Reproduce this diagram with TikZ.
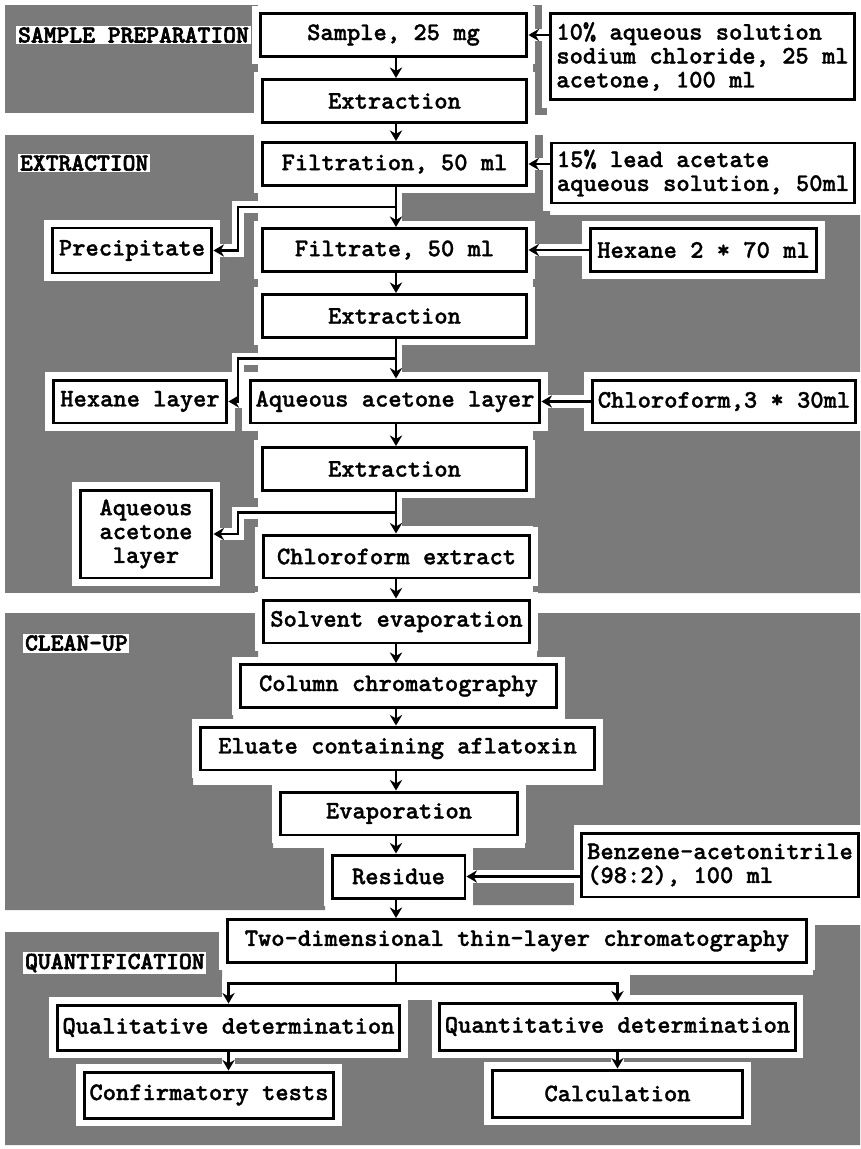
\documentclass[tikz,border=0pt]{standalone}
\usepackage{fontspec}
\usetikzlibrary{arrows.meta,calc}
\newfontfamily\flowfont{lmmonolt10-bold.otf}[FakeBold=1.2]
\newfontfamily\phasefont{lmmonolt10-bold.otf}[FakeBold=2.5]
\tikzset{
  screen/.style={fill=black!52},
  stage/.style={draw, line width=1.7pt, fill=white, inner sep=3pt, minimum height=0.86cm,
    font=\flowfont\fontsize{14.4}{13.6}\selectfont,
    preaction={draw=white, line width=9pt}},
  phase/.style={fill=white, inner sep=1pt, anchor=west,
    font=\phasefont\fontsize{13.9}{13.6}\selectfont},
  flow/.style={line width=1.5pt, -{Stealth[length=6pt,width=7pt]},
    preaction={draw=white, line width=7pt, -, shorten >=1pt, shorten <=1pt}},
}

\begin{document}
\begin{tikzpicture}[x=0.02cm, y=-0.02cm]
  \useasboundingbox (0,0) rectangle (860,1149);
  % screened backgrounds of the four phases
  \fill[screen] (5,5) rectangle (258,113);
  \fill[screen] (533,5) rectangle (547,115);
  \fill[screen] (5,135) rectangle (258,593);
  \fill[screen] (533,135) -- (550,135) -- (550,215) -- (860,215) -- (860,593) -- (533,593) -- cycle;
  \fill[screen] (400,192) rectangle (533,224);
  \fill[screen] (400,345) rectangle (533,372);
  \fill[screen] (400,498) rectangle (533,526);
  \fill[screen] (5,613) -- (258,613) -- (258,660) -- (233,660) -- (233,720) -- (193,720) -- (193,785)
    -- (273,785) -- (273,848) -- (325,848) -- (325,910) -- (5,910) -- cycle;
  \fill[screen] (537,613) -- (860,613) -- (860,826) -- (576,826) -- (576,905) -- (473,905) -- (473,848)
    -- (525,848) -- (525,785) -- (603,785) -- (603,720) -- (565,720) -- (565,660) -- (537,660) -- cycle;
  \fill[screen] (5,932) -- (222,932) -- (222,1000) -- (630,1000) -- (630,975) -- (813,975) -- (813,925)
    -- (860,925) -- (860,1145) -- (5,1145) -- cycle;

  % phase labels
  \node[phase] (lblprep)  at (16,35)  {SAMPLE PREPARATION};
  \node[phase] (lblextr)  at (18,163) {EXTRACTION};
  \node[phase] (lblclean) at (23,643) {CLEAN-UP};
  \node[phase] (lblquant) at (23,963) {QUANTIFICATION};

  % main column
  \node[stage, minimum width=5.34cm] (sample)   at (393.5,35)    {Sample, 25 mg};
  \node[stage, minimum width=5.3cm]  (ext1)     at (394.5,101)   {Extraction};
  \node[stage, minimum width=5.3cm]  (filt)     at (394.5,164)   {Filtration, 50 ml};
  \node[stage, minimum width=5.3cm]  (filtrate) at (394.5,250)   {Filtrate, 50 ml};
  \node[stage, minimum width=5.3cm]  (ext2)     at (394.5,316)   {Extraction};
  \node[stage, minimum width=5.8cm]  (aqlayer)  at (395,401.5)   {Aqueous acetone layer};
  \node[stage, minimum width=5.3cm]  (ext3)     at (394.5,469)   {Extraction};
  \node[stage, minimum width=5.34cm] (chlext)   at (396.5,556.5) {Chloroform extract};
  \node[stage, minimum width=5.34cm] (solvev)   at (396.5,621.5) {Solvent evaporation};
  \node[stage, minimum width=6.34cm] (column)   at (398.5,686)   {Column chromatography};
  \node[stage, minimum width=7.9cm]  (eluate)   at (397.5,748.5) {Eluate containing aflatoxin};
  \node[stage, minimum width=4.76cm] (evap)     at (399,813.5)   {Evaporation};
  \node[stage, minimum width=2.66cm] (residue)  at (398.5,876.5) {Residue};
  \node[stage, minimum width=11.6cm] (tlc)      at (517,941)     {Two-dimensional thin-layer chromatography};
  \node[stage, minimum width=6.86cm, minimum height=0.9cm] (quali)   at (228.5,1027.5) {Qualitative determination};
  \node[stage, minimum width=4.96cm, minimum height=0.92cm] (confirm) at (209,1095)    {Confirmatory tests};
  \node[stage, minimum width=7.1cm, minimum height=0.94cm]  (quanti)  at (617.5,1026.5) {Quantitative determination};
  \node[stage, minimum width=5.02cm, minimum height=0.94cm] (calc)    at (617.5,1093.5) {Calculation};

  % reagents and side products
  \node[stage, align=left, minimum width=6.1cm, minimum height=1.74cm] (salt) at (702.5,56.5)
    {10\% aqueous solution\\sodium chloride, 25 ml\\acetone, 100 ml};
  \node[stage, align=left, minimum width=6.08cm, minimum height=1.2cm] (lead) at (703,173)
    {15\% lead acetate\\aqueous solution, 50ml};
  \node[stage, minimum width=3.2cm, minimum height=0.9cm] (precip)   at (132,250.5)  {Precipitate};
  \node[stage, minimum width=4.54cm] (hexane)   at (703.5,250)  {Hexane 2 * 70 ml};
  \node[stage, minimum width=3.48cm] (hexlayer) at (140,401.5)  {Hexane layer};
  \node[stage, minimum width=5.28cm] (chloro)   at (724,401.5)  {Chloroform,3 * 30ml};
  \node[stage, align=center, minimum width=2.64cm, minimum height=1.76cm] (aqrest) at (146,534)
    {Aqueous\\acetone\\layer};
  \node[stage, align=left, minimum width=5.52cm, minimum height=1.28cm] (benzene) at (720,865)
    {Benzene-acetonitrile\\(98:2), 100 ml};

  % connectors
  \coordinate (spine) at (396,0);
  \coordinate (rail) at (238,0);
  \draw[flow] (salt.west |- sample.east) -- (sample.east);
  \draw[flow] (sample.south -| spine) -- (ext1.north -| spine);
  \draw[flow] (ext1.south -| spine) -- (filt.north -| spine);
  \draw[flow] (lead.west |- filt.east) -- (filt.east);
  \draw[flow] (filt.south -| spine) -- (filtrate.north -| spine);
  \coordinate (fork1) at ($(filt.south -| spine)!0.5!(filtrate.north -| spine)$);
  \draw[flow] (fork1) -| (rail |- precip.east) -- (precip.east);
  \draw[flow] (hexane.west) -- (filtrate.east);
  \draw[flow] (filtrate.south -| spine) -- (ext2.north -| spine);
  \draw[flow] (ext2.south -| spine) -- (aqlayer.north -| spine);
  \coordinate (fork2) at ($(ext2.south -| spine)!0.5!(aqlayer.north -| spine)$);
  \draw[flow] (fork2) -| (rail |- hexlayer.east) -- (hexlayer.east);
  \draw[flow] (chloro.west) -- (aqlayer.east);
  \draw[flow] (aqlayer.south -| spine) -- (ext3.north -| spine);
  \draw[flow] (ext3.south -| spine) -- (chlext.north -| spine);
  \coordinate (fork3) at ($(ext3.south -| spine)!0.5!(chlext.north -| spine)$);
  \draw[flow] (fork3) -| (rail |- aqrest.east) -- (aqrest.east);
  \draw[flow] (chlext.south -| spine) -- (solvev.north -| spine);
  \draw[flow] (solvev.south -| spine) -- (column.north -| spine);
  \draw[flow] (column.south -| spine) -- (eluate.north -| spine);
  \draw[flow] (eluate.south -| spine) -- (evap.north -| spine);
  \draw[flow] (evap.south -| spine) -- (residue.north -| spine);
  \draw[flow] (benzene.west |- residue.east) -- (residue.east);
  \draw[flow] (residue.south -| spine) -- (tlc.north -| spine);
  \coordinate (split) at ($(tlc.south -| spine)!0.5!(quali.north -| spine)$);
  \draw[flow, -] (tlc.south -| spine) -- (split);
  \draw[flow] (split) -| (quali.north);
  \draw[flow] (split) -| (quanti.north);
  \draw[flow] (quali.south) -- (quali.south |- confirm.north);
  \draw[flow] (quanti.south) -- (quanti.south |- calc.north);
\end{tikzpicture}
\end{document}
